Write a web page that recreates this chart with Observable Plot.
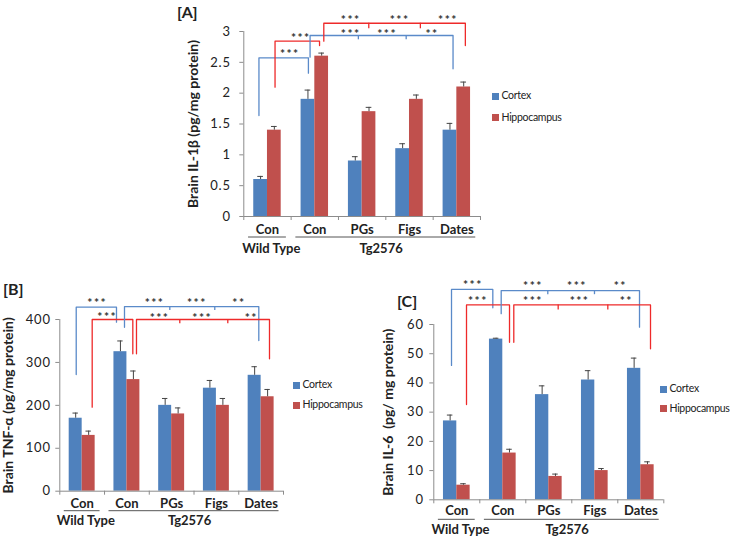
<!DOCTYPE html>
<html><head><meta charset="utf-8">
<script src="https://cdn.jsdelivr.net/npm/d3@7"></script>
<script src="https://cdn.jsdelivr.net/npm/@observablehq/plot@0.6"></script>
<style>
body{margin:0;background:#fff;font-family:Lato,"Open Sans",sans-serif;}
#root{position:relative;width:732px;height:537px;overflow:hidden;background:#fff;}
.abs{position:absolute;}
.plabel{font-weight:bold;font-size:16px;color:#222;line-height:1;}
.leg{font-size:10.5px;letter-spacing:-0.3px;color:#222;white-space:nowrap;line-height:1;}
.sw{position:absolute;width:7px;height:7px;}
g[aria-label="y-axis tick label"]{letter-spacing:0.8px;}
</style></head><body><div id="root"></div>
<script>
// ---------- data ----------
const catLabels = ["Con", "Con", "PGs", "Figs", "Dates"];
const groupLabels = ["Wild Type", "Tg2576"];
const groupLabelX = [0.08, 2.4];
const groupLineX1 = [-0.4, 0.6];
const groupLineX2 = [0.4, 4.4];
const series = ["Cortex", "Hippocampus"];

// [A] IL-1beta
const il1bCortex = [0.6, 1.9, 0.9, 1.1, 1.4];
const il1bCortexErr = [0.05, 0.15, 0.07, 0.08, 0.11];
const il1bHippo = [1.4, 2.6, 1.7, 1.9, 2.1];
const il1bHippoErr = [0.06, 0.05, 0.07, 0.07, 0.08];
const il1bTicks = [0, 0.5, 1, 1.5, 2, 2.5, 3];
const il1bBrackets = [
  {s: "Cortex", x1: -0.18, x2: 0.865, top: 2.573, b1: 1.638, b2: 2.324, labelY: 2.676, labels: [[0.456, "***"]]},
  {s: "Hippocampus", x1: 0.16, x2: 1.10, top: 2.843, b1: 2.097, b2: 2.773, labelY: 2.935, labels: [[0.688, "***"]]},
  {s: "Cortex", x1: 0.90, x2: 3.92, top: 2.935, b1: 2.583, b2: 2.395, ticks: [1.92, 2.93], tickBottom: 2.865, labelY: 3.005, labels: [[1.743, "***"], [2.511, "***"], [3.46, "**"]]},
  {s: "Hippocampus", x1: 1.19, x2: 4.18, top: 3.134, b1: 2.843, b2: 2.773, ticks: [2.14, 3.23], tickBottom: 3.044, labelY: 3.232, labels: [[1.743, "***"], [2.776, "***"], [3.797, "***"]]}
];

// [B] TNF-alpha
const tnfCortex = [170, 325, 200, 240, 270];
const tnfCortexErr = [12, 25, 16, 18, 20];
const tnfHippo = [130, 260, 180, 200, 220];
const tnfHippoErr = [10, 20, 14, 16, 17];
const tnfTicks = [0, 100, 200, 300, 400];
const tnfBrackets = [
  {s: "Cortex", x1: -0.133, x2: 0.767, top: 428.6, b1: 271.8, b2: 393.7, labelY: 444.2, labels: [[0.32, "***"]]},
  {s: "Hippocampus", x1: 0.224, x2: 1.132, top: 400, b1: 195.7, b2: 320, labelY: 411.6, labels: [[0.544, "***"]]},
  {s: "Cortex", x1: 0.946, x2: 3.948, top: 430.2, b1: 382, b2: 351, ticks: [1.959, 2.964], tickBottom: 421, labelY: 445.8, labels: [[1.601, "***"], [2.548, "***"], [3.487, "**"]]},
  {s: "Hippocampus", x1: 1.214, x2: 4.187, top: 400, b1: 320, b2: 308.4, ticks: [2.182, 3.255], tickBottom: 390, labelY: 409.3, labels: [[1.713, "***"], [2.667, "***"], [3.762, "**"]]}
];

// [C] IL-6
const il6Cortex = [27, 55, 36, 41, 45];
const il6CortexErr = [2, 0.3, 3, 3.2, 3.5];
const il6Hippo = [5, 16, 8, 10, 12];
const il6HippoErr = [0.5, 1.3, 0.8, 0.7, 1];
const il6Ticks = [0, 10, 20, 30, 40, 50, 60];
const il6Brackets = [
  {s: "Cortex", x1: -0.115, x2: 0.783, top: 72.0, b1: 46.0, b2: 65.7, labelY: 74.5, labels: [[0.334, "***"]]},
  {s: "Hippocampus", x1: 0.211, x2: 1.146, top: 66.7, b1: 32.6, b2: 53.9, labelY: 69.0, labels: [[0.443, "***"]]},
  {s: "Cortex", x1: 0.965, x2: 3.972, top: 71.6, b1: 63.7, b2: 59.1, ticks: [1.978, 2.993], tickBottom: 70.2, labelY: 74.2, labels: [[1.639, "***"], [2.596, "***"], [3.537, "**"]]},
  {s: "Hippocampus", x1: 1.239, x2: 4.211, top: 66.7, b1: 53.9, b2: 51.7, ticks: [2.204, 3.283], tickBottom: 65.0, labelY: 69.1, labels: [[1.639, "***"], [2.652, "***"], [3.667, "**"]]}
];

// ---------- drawing ----------
const BAR = ["#4F81BD", "#C0504D"];
const BRK = {Cortex: "#5A8AC9", Hippocampus: "#EE2A2A"};
const BW = 0.29;

function panel(cfg) {
  const rows = [];
  catLabels.forEach((c, i) => {
    rows.push({i, s: "Cortex", x1: i - BW, x2: i, v: cfg.cortex[i], e: cfg.cortexErr[i]});
    rows.push({i, s: "Hippocampus", x1: i, x2: i + BW, v: cfg.hippo[i], e: cfg.hippoErr[i]});
  });
  const path = [];
  cfg.brackets.forEach((b, k) => {
    path.push({k, s: b.s, x: b.x1, y: b.b1}, {k, s: b.s, x: b.x1, y: b.top},
              {k, s: b.s, x: b.x2, y: b.top}, {k, s: b.s, x: b.x2, y: b.b2});
  });
  const bt = cfg.brackets.flatMap(b => (b.ticks || []).map(t => ({s: b.s, x: t, y1: b.top, y2: b.tickBottom})));
  const bl = cfg.brackets.flatMap(b => b.labels.map(([x, t]) => ({x, t, y: b.labelY})));
  const y0 = cfg.yTicks[0], yMax = cfg.yTicks[cfg.yTicks.length - 1];
  const bounds = d3.range(-0.5, 5, 1);
  const svg = Plot.plot({
    width: cfg.w, height: cfg.h,
    marginLeft: cfg.ml, marginRight: cfg.mr, marginTop: cfg.mt, marginBottom: cfg.mb,
    x: {type: "linear", domain: [-0.5, 4.5], axis: null},
    y: {domain: [y0, yMax], axis: null},
    color: {domain: series, range: BAR},
    style: {fontFamily: "Lato, sans-serif", fontSize: "13px", color: "#222", overflow: "visible", background: "transparent"},
    marks: [
      Plot.rect(rows, {x1: "x1", x2: "x2", y1: () => y0, y2: "v", fill: "s"}),
      Plot.ruleX(rows, {x: d => (d.x1 + d.x2) / 2, y1: "v", y2: d => d.v + d.e, stroke: "#444", strokeWidth: 1}),
      Plot.ruleY(rows, {x1: d => (d.x1 + d.x2) / 2 - 0.06, x2: d => (d.x1 + d.x2) / 2 + 0.06, y: d => d.v + d.e, stroke: "#444", strokeWidth: 1}),
      Plot.ruleY([y0], {stroke: "#8c8c8c"}),
      Plot.ruleX([-0.5], {y1: y0, y2: yMax, stroke: "#8c8c8c"}),
      Plot.axisY({ticks: cfg.yTicks, tickSize: 4, tickPadding: cfg.tp, tickFormat: d => String(d), stroke: "#8c8c8c", fill: "#222", label: null, fontSize: 13}),
      Plot.axisX({ticks: bounds, tickSize: 4, tickFormat: () => "", stroke: "#8c8c8c", label: null}),
      Plot.text(catLabels, {x: (d, i) => i, y: () => y0, dy: cfg.catDy, text: d => d, fontWeight: "bold", fontSize: 13, fill: "#222"}),
      Plot.ruleY(groupLabels, {x1: (d, i) => groupLineX1[i], x2: (d, i) => groupLineX2[i], y: () => y0, dy: cfg.lineDy, stroke: "#555"}),
      Plot.text(groupLabels, {x: (d, i) => groupLabelX[i], y: () => y0, dy: cfg.grpDy, text: d => d, fontWeight: "bold", fontSize: 13, fill: "#222"}),
      Plot.line(path, {x: "x", y: "y", z: "k", stroke: d => BRK[d.s], strokeWidth: 1.3}),
      Plot.ruleX(bt, {x: "x", y1: "y1", y2: "y2", stroke: d => BRK[d.s], strokeWidth: 1.3}),
      Plot.text(bl, {x: "x", y: "y", text: d => d.t.split("").join("\u2009"), dy: 3, fontSize: 12, fontWeight: "bold", fill: "#333"}),
      Plot.text([cfg.title], {frameAnchor: "left", textAnchor: "middle", dx: cfg.titleDx, rotate: -90, text: d => d, fontWeight: "bold", fontSize: 14, fill: "#222"})
    ]
  });
  svg.style.position = "absolute";
  svg.style.left = cfg.left + "px";
  svg.style.top = cfg.top + "px";
  return svg;
}

const root = document.getElementById("root");

root.appendChild(panel({
  cortex: il1bCortex, cortexErr: il1bCortexErr, hippo: il1bHippo, hippoErr: il1bHippoErr,
  yTicks: il1bTicks, brackets: il1bBrackets, title: "Brain IL-1β (pg/mg protein)",
  left: 160, top: 0, w: 340, h: 255, ml: 83.3, mr: 20, mt: 31, mb: 39, tp: 9,
  catDy: 13.5, lineDy: 20.5, grpDy: 32, titleDx: -50
}));
root.appendChild(panel({
  cortex: tnfCortex, cortexErr: tnfCortexErr, hippo: tnfHippo, hippoErr: tnfHippoErr,
  yTicks: tnfTicks, brackets: tnfBrackets, title: "Brain TNF-α (pg/mg protein)",
  left: 0, top: 262, w: 290, h: 275, ml: 59.3, mr: 7, mt: 57, mb: 46.3, tp: 5,
  catDy: 12.5, lineDy: 19.5, grpDy: 29.5, titleDx: -51
}));
root.appendChild(panel({
  cortex: il6Cortex, cortexErr: il6CortexErr, hippo: il6Hippo, hippoErr: il6HippoErr,
  yTicks: il6Ticks, brackets: il6Brackets, title: "Brain IL-6  (pg/ mg protein)",
  left: 370, top: 262, w: 300, h: 275, ml: 63.3, mr: 6.7, mt: 62, mb: 37.7, tp: 6,
  catDy: 11.5, lineDy: 19.5, grpDy: 30, titleDx: -45
}));

function addText(txt, cls, x, y) {
  const d = document.createElement("div");
  d.className = "abs " + cls;
  d.textContent = txt;
  d.style.left = x + "px"; d.style.top = y + "px";
  root.appendChild(d);
}
addText("[A]", "plabel", 177, 4);
addText("[B]", "plabel", 3, 281);
addText("[C]", "plabel", 397, 293);

function legend(x, y1, y2) {
  [y1, y2].forEach((y, i) => {
    const sw = document.createElement("div");
    sw.className = "sw";
    sw.style.left = x + "px"; sw.style.top = (y - 3.5) + "px"; sw.style.background = BAR[i];
    root.appendChild(sw);
    addText(series[i], "leg", x + 9.5, y - 6);
  });
}
legend(492, 96, 117.5);
legend(293, 385, 405);
legend(660, 389, 408.5);
</script></body></html>
